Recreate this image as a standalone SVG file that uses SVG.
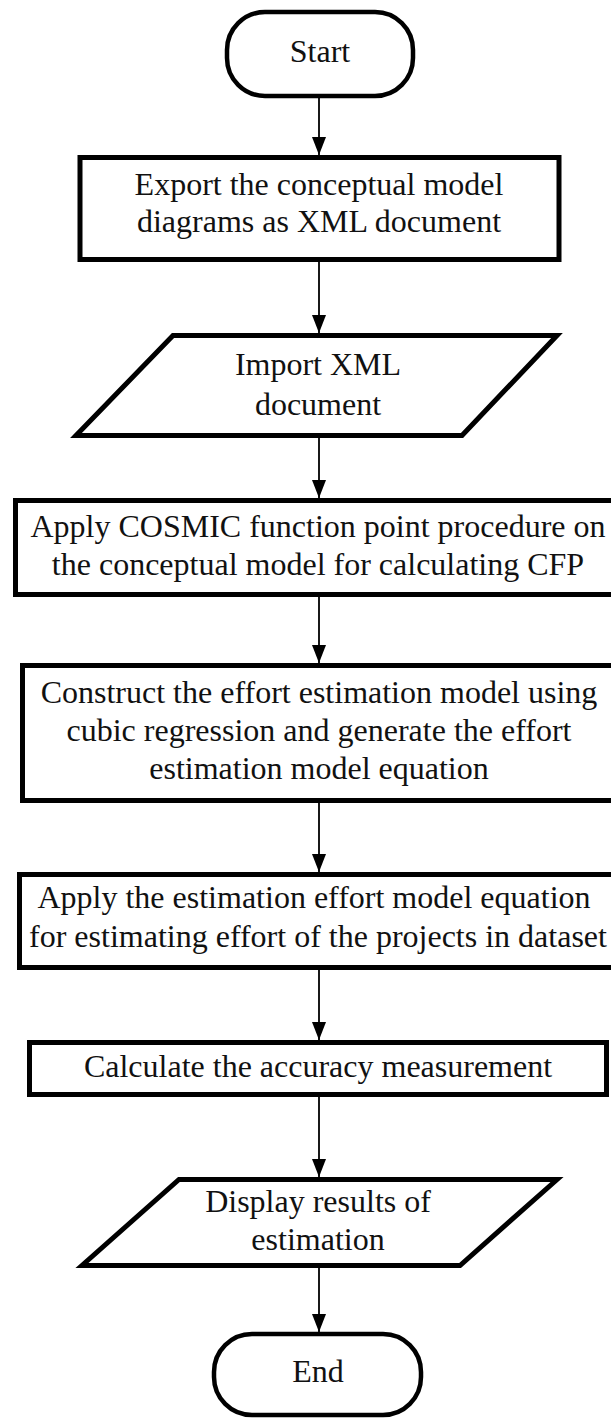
<svg xmlns="http://www.w3.org/2000/svg" width="611" height="1418" viewBox="0 0 611 1418">
<defs>
<style>
.node{fill:#fff;stroke:#000;stroke-width:5;stroke-linejoin:miter}
.term{fill:#fff;stroke:#000;stroke-width:4.5}
.lbl{font-family:"Liberation Serif","Times New Roman",serif;font-size:32px;fill:#111;text-anchor:middle}
.conn{stroke:#000;stroke-width:1.8;fill:none}
</style>
<marker id="ah" viewBox="0 0 18 14" refX="18" refY="7" markerWidth="18" markerHeight="14" markerUnits="userSpaceOnUse" orient="auto">
<path d="M0,0 L18,7 L0,14 z" fill="#000"/>
</marker>
</defs>
<rect width="611" height="1418" fill="#fff"/>
<g id="connectors">
<line class="conn" x1="319" y1="98" x2="319" y2="155" marker-end="url(#ah)"/>
<line class="conn" x1="319" y1="262" x2="319" y2="333" marker-end="url(#ah)"/>
<line class="conn" x1="319" y1="438" x2="319" y2="498" marker-end="url(#ah)"/>
<line class="conn" x1="319" y1="597" x2="319" y2="663" marker-end="url(#ah)"/>
<line class="conn" x1="319" y1="803" x2="319" y2="872" marker-end="url(#ah)"/>
<line class="conn" x1="319" y1="970" x2="319" y2="1040" marker-end="url(#ah)"/>
<line class="conn" x1="319" y1="1097" x2="319" y2="1177" marker-end="url(#ah)"/>
<line class="conn" x1="319" y1="1268" x2="319" y2="1332" marker-end="url(#ah)"/>
</g>
<g id="start">
<rect class="term" x="227" y="12" width="186" height="84" rx="38" ry="38"/>
<text class="lbl" x="320" y="62">Start</text>
</g>
<g id="export">
<rect class="node" x="80" y="157.5" width="479" height="102"/>
<text class="lbl" x="319" y="195">Export the conceptual model</text>
<text class="lbl" x="319" y="232">diagrams as XML document</text>
</g>
<g id="import">
<polygon class="node" points="173,335.5 557,335.5 462,435.5 76,435.5"/>
<text class="lbl" x="318" y="375">Import XML</text>
<text class="lbl" x="318" y="415">document</text>
</g>
<g id="cosmic">
<rect class="node" x="15.5" y="500.5" width="610" height="94"/>
<text class="lbl" x="318" y="537">Apply COSMIC function point procedure on</text>
<text class="lbl" x="318" y="575">the conceptual model for calculating CFP</text>
</g>
<g id="construct">
<rect class="node" x="22.5" y="665.5" width="600" height="135"/>
<text class="lbl" x="319" y="703">Construct the effort estimation model using</text>
<text class="lbl" x="319" y="741">cubic regression and generate the effort</text>
<text class="lbl" x="319" y="779">estimation model equation</text>
</g>
<g id="apply">
<rect class="node" x="19.5" y="874.5" width="610" height="93"/>
<text class="lbl" x="314" y="908">Apply the estimation effort model equation</text>
<text class="lbl" x="318" y="947">for estimating effort of the projects in dataset</text>
</g>
<g id="accuracy">
<rect class="node" x="29.5" y="1042.5" width="577" height="52"/>
<text class="lbl" x="318" y="1077">Calculate the accuracy measurement</text>
</g>
<g id="display">
<polygon class="node" points="179,1179.5 557,1179.5 460,1265.5 82,1265.5"/>
<text class="lbl" x="318" y="1212">Display results of</text>
<text class="lbl" x="318" y="1250">estimation</text>
</g>
<g id="end">
<rect class="term" x="214" y="1334" width="207" height="81" rx="38" ry="38"/>
<text class="lbl" x="318" y="1382">End</text>
</g>
</svg>
